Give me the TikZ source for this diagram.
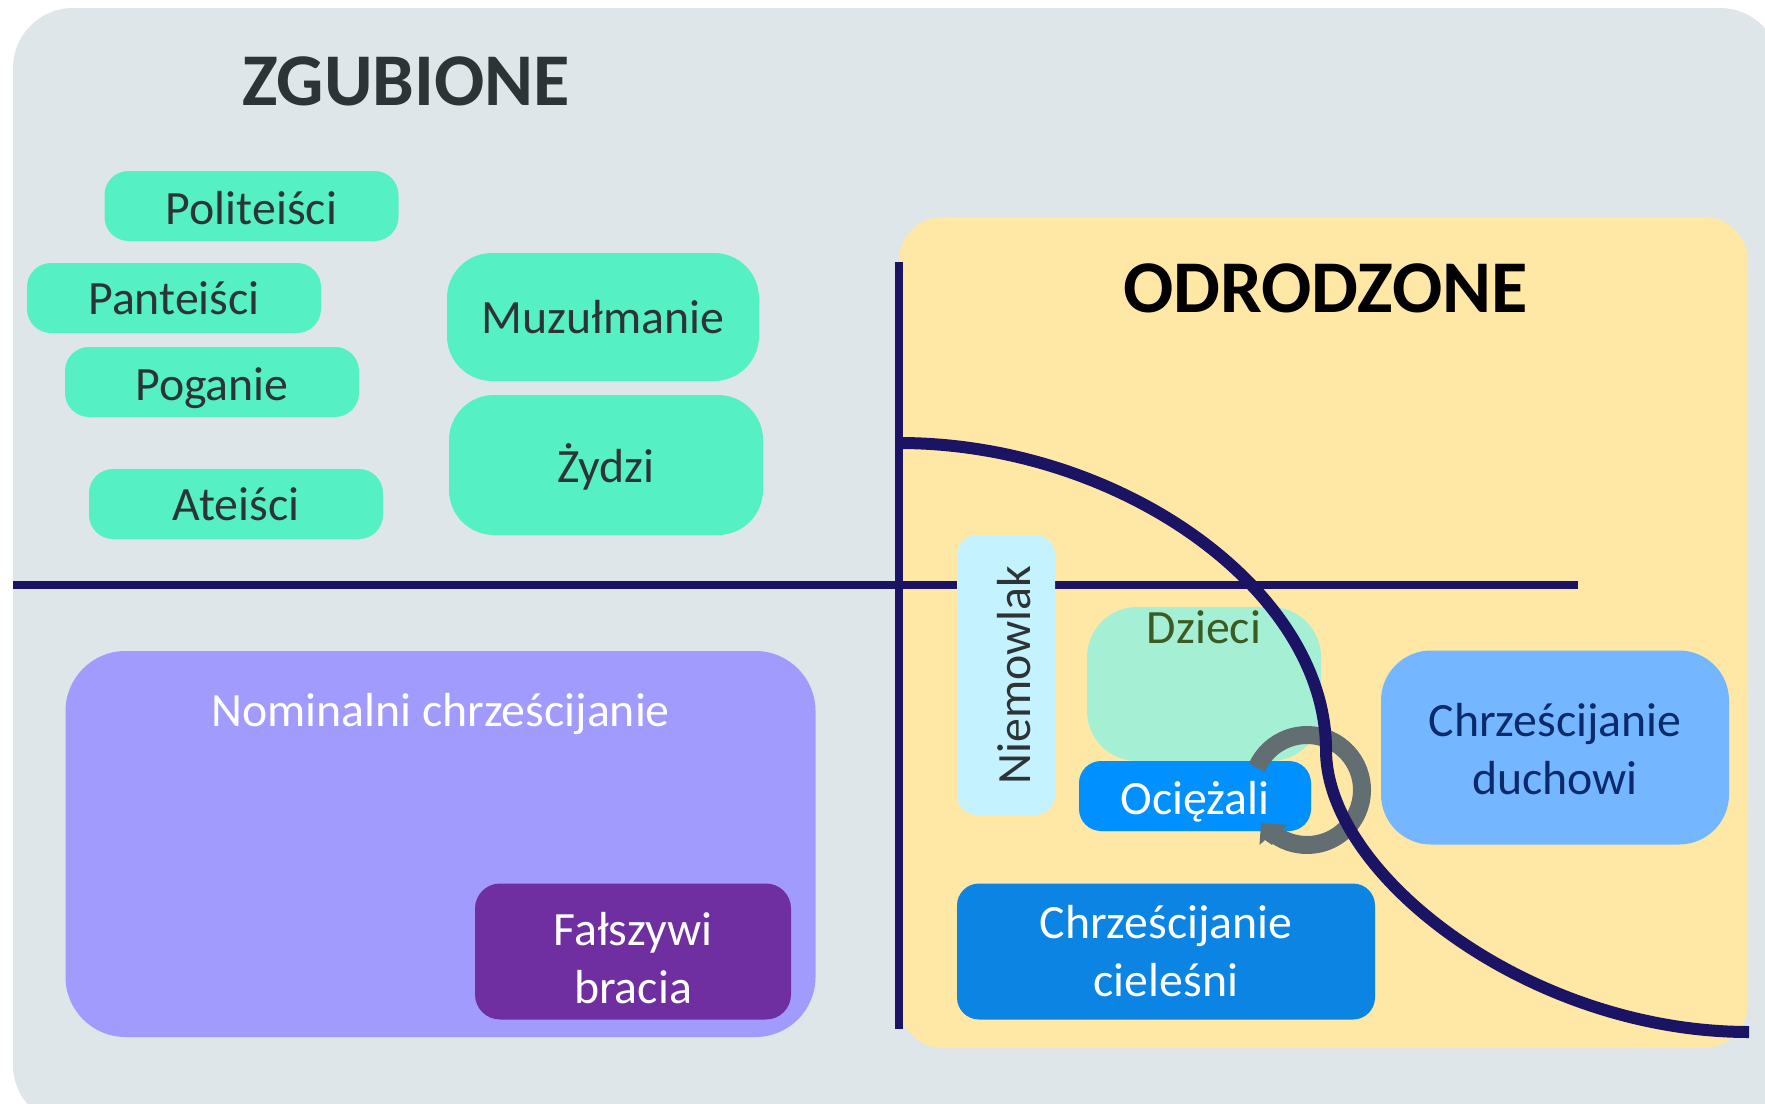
\documentclass[tikz,border=0pt]{standalone}
\usepackage{fontspec}
\setmainfont{Carlito}
\definecolor{bgc}{HTML}{DFE6E9}
\definecolor{yel}{HTML}{FFE8A6}
\definecolor{mint}{HTML}{55F0C4}
\definecolor{ink}{HTML}{2D3436}
\definecolor{navy}{HTML}{1B1464}
\definecolor{baby}{HTML}{C5F2FF}
\definecolor{child}{HTML}{A5F0D5}
\definecolor{childtx}{HTML}{3B5B23}
\definecolor{ocz}{HTML}{0090FF}
\definecolor{duch}{HTML}{74B6FF}
\definecolor{duchtx}{HTML}{0B2A6B}
\definecolor{ciel}{HTML}{0B84E3}
\definecolor{nomi}{HTML}{A29BFE}
\definecolor{falsz}{HTML}{6F2FA0}
\definecolor{ring}{HTML}{636E72}
\tikzset{
  sized/.style n args={3}{minimum width=#1*0.5pt,minimum height=#2*0.5pt,rounded corners=#3*0.5pt,inner sep=0pt,outer sep=0pt},
  bl/.style={text height=18pt,text depth={(18+#1)*1pt}},
  lab/.style={font=\fontsize{23.9}{29}\selectfont},
  pill/.style={lab,fill=mint,text=ink,sized={294}{70}{24}},
  title/.style={font=\fontsize{37.2}{45}\selectfont\bfseries,anchor=base,inner sep=0pt},
  rule/.style={draw=navy,line width=4pt},
  arcline/.style={draw=navy,line width=6pt}
}
\begin{document}
\begin{tikzpicture}[x=0.5pt,y=-0.5pt]
\useasboundingbox (0,0) rectangle (1765,1103);
\fill[bgc,rounded corners=30pt] (13,8) rectangle (1780,1125);
\fill[yel,rounded corners=22pt] (899,217) rectangle (1748,1048);
\coordinate (hl) at (13,585);
\coordinate (hr) at (1578,585);
\coordinate (vt) at (899,262);
\coordinate (vb) at (899,1029);
\coordinate (cs) at (899,443);
\coordinate (cm) at (1326,750);
\coordinate (ce) at (1749,1032);
\draw[rule] (hl) -- (hr);
\draw[rule] (vt) -- (vb);
\node[title,text=ink] (zg) at (406,105) {ZGUBIONE};
\node[title,text=black] (od) at (1325.5,312) {ODRODZONE};
\node[pill,bl=-18] (pol) at (251.5,206) {Politeiści};
\node[pill,bl=-16] (pan) at (174,298) {Panteiści};
\node[pill,bl=-18] (pog) at (212,382) {Poganie};
\node[pill,bl=-16] (ate) at (236,504) {Ateiści};
\node[lab,fill=mint,text=ink,sized={312}{128}{45},bl=-16] (muz) at (603,317) {Muzułmanie};
\node[lab,fill=mint,text=ink,sized={314}{140}{45},bl=-17] (zyd) at (606,465) {Żydzi};
\node[lab,fill=nomi,text=white,sized={750}{386}{60},bl=118] (nom) at (440.5,844) {Nominalni chrześcijanie};
\node[lab,fill=falsz,text=white,align=center,sized={316}{136}{25}] (fal) at (633,951.5) {\rule{0pt}{23pt}Fałszywi\\bracia};
\node[lab,fill=baby,text=ink,rotate=90,sized={280}{98}{20},text height=24pt,text depth=0pt] (nie) at (1006,675) {Niemowlak};
\node[lab,fill=child,text=childtx,sized={234}{154}{50},bl=41] (dzi) at (1204,684) {Dzieci};
\node[lab,fill=ocz,text=white,sized={232}{70}{22},bl=-18] (ocie) at (1195,796) {Ociężali};
\node[lab,fill=duch,text=duchtx,align=center,sized={348}{194}{50}] (duc) at (1555,747.5) {\rule{0pt}{18.3pt}Chrześcijanie\\duchowi};
\node[lab,fill=ciel,text=white,align=center,sized={418}{136}{22}] (cie) at (1166,951.5) {Chrześcijanie\\cieleśni};
\coordinate (rc) at (1307,790);
\draw[ring,line width=9pt] (rc) ++(204:55) arc[start angle=204,end angle=485,radius=55];
\fill[ring] (1261,823) -- (1288,825) -- (1279,832) -- (1272,845) -- (1265,840) -- (1259.5,845) -- cycle;
\draw[arcline] (cs) .. controls (1120,443) and (1326,590) .. (cm) .. controls (1326,875) and (1530,1032) .. (ce);
\end{tikzpicture}
\end{document}
